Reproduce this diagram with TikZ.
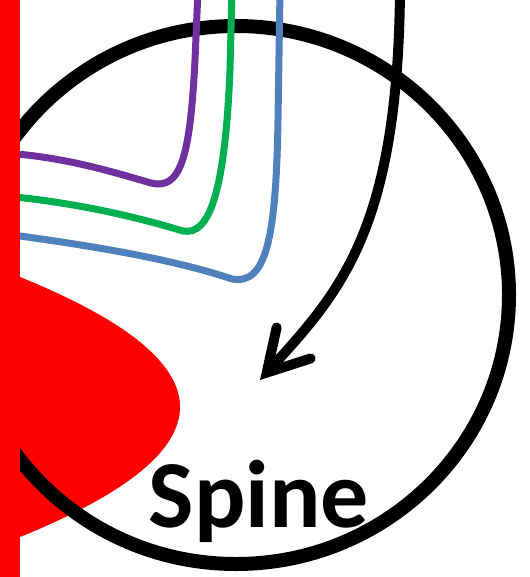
\documentclass[tikz,border=0pt]{standalone}
\usepackage{fontspec}
\setmainfont{Carlito}
\usetikzlibrary{arrows.meta, positioning}
\definecolor{spred}{HTML}{FF0000}
\definecolor{sppurple}{HTML}{7030A0}
\definecolor{spgreen}{HTML}{00B050}
\definecolor{spblue}{HTML}{4F81BD}

\begin{document}
\begin{tikzpicture}[x=1pt, y=-1pt,
    fiber/.style={line width=7pt},
    ring/.style={line width=14pt}]
  \useasboundingbox (0,0) rectangle (529,577);
  % red head
  \fill[spred] (0,277) -- (20,277) .. controls (126.7,320.3) and (180,363.7) .. (180,407)
    .. controls (180,450.3) and (126.7,493.7) .. (20,537) -- (0,537) -- cycle;
  % spine outline
  \draw[ring] (236,295) ellipse [x radius=273pt, y radius=269pt];
  % purple fiber
  \coordinate (ptop) at (198,-10);
  \coordinate (pend) at (5,153);
  \draw[fiber, sppurple] (ptop) -- (195,60) .. controls (190,160) and (180,190) .. (151,183)
    .. controls (100,168) and (60,157) .. (pend);
  % green fiber
  \coordinate (gtop) at (232,-10);
  \coordinate (gend) at (5,196);
  \draw[fiber, spgreen] (gtop) -- (230,70) .. controls (225,190) and (210,236) .. (183,231)
    .. controls (130,215) and (70,202) .. (gend);
  % blue fiber
  \coordinate (btop) at (280,-10);
  \coordinate (bend) at (5,234);
  \draw[fiber, spblue] (btop) -- (278,120) .. controls (276,240) and (266,285) .. (232,279)
    .. controls (170,258) and (80,244) .. (bend);
  % red shaft
  \fill[spred] (0,0) rectangle (20,577);
  % arrow into the spine
  \coordinate (arrtop) at (400,-10);
  \coordinate (arrtip) at (260,380);
  \draw[line width=10pt, -{Straight Barb[length=40pt, width=46pt, line cap=round, line join=miter]}]
    (arrtop) .. controls (398,230) and (340,292) .. (arrtip);
  \node[font=\fontsize{96}{96}\selectfont\bfseries, anchor=base, inner sep=0pt] (spine) at (259,527) {Spine};
\end{tikzpicture}
\end{document}
